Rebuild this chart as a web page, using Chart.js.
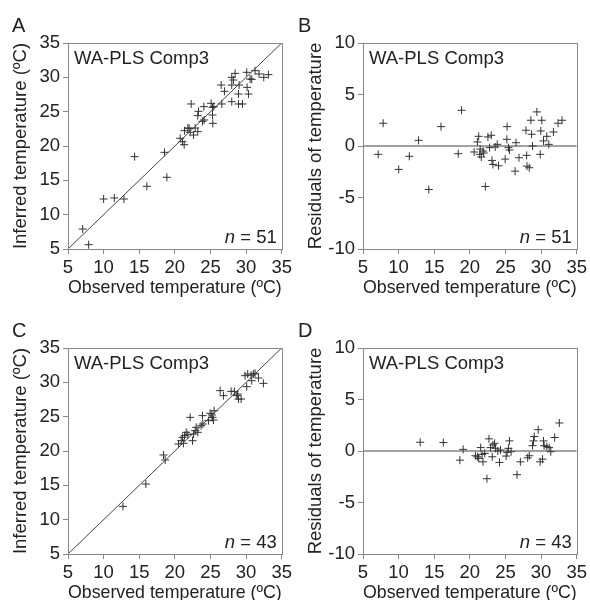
<!DOCTYPE html>
<html>
<head>
<meta charset="utf-8">
<script src="https://cdn.jsdelivr.net/npm/chart.js@4.4.1/dist/chart.umd.min.js"></script>
<style>
html, body { margin: 0; padding: 0; background: #fff; overflow: hidden; }
#wrap { position: relative; width: 590px; height: 600px; overflow: hidden; }
canvas { position: absolute; }
</style>
</head>
<body>
<div id="wrap">
  <canvas id="chartA" width="295" height="300" style="left:0;top:0"></canvas>
  <canvas id="chartB" width="295" height="300" style="left:295px;top:0"></canvas>
  <canvas id="chartC" width="295" height="300" style="left:0;top:305px"></canvas>
  <canvas id="chartD" width="295" height="300" style="left:295px;top:305px"></canvas>
</div>
<script>
// values
const observedA = [7.06, 7.90, 10.00, 11.50, 12.85, 14.35, 16.07, 18.55, 18.88, 20.75, 21.07, 21.31, 21.36, 21.82, 22.01, 22.62, 22.85, 23.22, 22.15, 22.29, 23.22, 23.32, 24.07, 23.88, 24.11, 25.09, 25.28, 25.47, 25.28, 25.33, 26.50, 26.59, 26.96, 27.99, 28.46, 27.99, 27.99, 28.93, 29.02, 28.93, 29.49, 30.09, 30.14, 30.33, 30.56, 30.79, 31.26, 31.82, 32.48, 33.13, 28.22];
const inferredA = [7.91, 5.63, 12.28, 12.43, 12.28, 18.45, 14.13, 19.08, 15.44, 21.12, 20.63, 20.19, 22.23, 22.62, 22.57, 21.60, 22.62, 22.09, 21.99, 26.12, 24.42, 25.05, 25.73, 23.59, 23.79, 26.21, 25.63, 25.73, 24.51, 23.30, 28.88, 26.12, 27.96, 30.00, 30.58, 28.88, 26.46, 27.57, 28.88, 26.12, 26.12, 30.73, 28.54, 27.57, 29.76, 29.71, 30.97, 30.49, 30.00, 30.39, 29.61];

const observedB = [7.13, 7.83, 10.01, 11.5, 12.8, 14.23, 15.95, 18.36, 18.83, 20.6, 21.06, 21.24, 21.38, 21.6, 21.85, 21.95, 22.17, 22.54, 22.77, 23.0, 23.1, 23.24, 23.56, 23.84, 24.03, 24.96, 25.19, 25.23, 25.42, 25.56, 26.35, 26.48, 26.9, 27.88, 27.97, 28.02, 28.34, 28.57, 28.67, 28.8, 29.41, 29.88, 29.96, 30.1, 30.34, 30.8, 31.08, 31.73, 32.38, 32.94, 21.45];
const residualB = [-0.81, 2.21, -2.27, -1.0, 0.55, -4.22, 1.88, -0.75, 3.47, -0.58, 0.39, 0.94, -0.81, -1.07, -0.49, -0.68, -3.93, 0.88, -0.16, 1.04, -1.4, -1.79, -0.1, 0.16, -1.92, -1.27, 0.65, 1.88, -0.16, -0.39, -2.44, 0.32, -1.14, 1.53, -0.91, -1.95, -2.11, 2.5, 1.14, 0.0, 3.31, -0.81, 1.46, 2.5, 0.49, 0.94, 0.16, 1.36, 2.21, 2.5, -0.3];

const observedC = [12.71, 15.93, 18.41, 18.64, 20.51, 20.89, 21.07, 21.21, 21.36, 21.59, 21.82, 22.15, 22.48, 22.62, 22.85, 22.99, 23.22, 23.69, 23.88, 23.93, 24.95, 25.19, 25.28, 25.42, 25.51, 26.36, 26.82, 27.9, 28.36, 28.69, 28.93, 29.3, 28.83, 29.86, 30.23, 30.09, 30.7, 31.03, 31.26, 31.73, 32.43, 30.79, 24.72];
const inferredC = [11.94, 15.19, 19.42, 18.69, 21.02, 21.5, 21.99, 21.12, 22.23, 22.72, 22.38, 24.9, 21.5, 22.48, 22.96, 23.45, 22.72, 23.69, 25.15, 23.93, 25.49, 25.24, 24.9, 24.51, 25.87, 28.79, 28.06, 28.69, 28.69, 28.06, 27.57, 27.57, 28.3, 30.97, 31.21, 29.37, 31.03, 31.21, 31.31, 30.63, 29.85, 30.24, 24.42];

const observedD = [13.03, 16.28, 18.6, 19.06, 20.78, 21.06, 21.24, 21.52, 21.71, 21.84, 22.08, 22.4, 22.68, 22.91, 23.14, 23.24, 23.47, 23.61, 23.93, 24.16, 24.3, 25.09, 25.23, 25.42, 25.56, 25.79, 26.62, 27.09, 28.11, 28.34, 28.8, 28.94, 29.04, 29.59, 29.87, 30.2, 30.34, 30.43, 30.8, 31.13, 31.36, 31.91, 32.56];
const residualD = [0.85, 0.82, -0.89, 0.16, -0.46, -0.56, -0.72, 0.33, -0.33, -1.05, -0.23, -2.69, 1.18, 0.33, -0.56, 0.59, 0.75, 0.26, 0.0, -1.11, 0.1, -0.49, -0.13, 0.26, 0.98, -0.07, -2.3, -1.05, -0.66, -0.46, 0.52, 0.98, 1.41, 2.07, -1.05, -0.79, 0.98, 0.52, 0.43, 0.33, -0.07, 1.31, 2.72];

// reference lines: 1:1 and zero
const lineX = [5, 35];
const oneToOneY = [5, 35];
const zeroY = [0, 0];

const tempRange = [5, 35];
const residRange = [-10, 10];

const FONT = '"Liberation Sans", Arial, Helvetica, sans-serif';
Chart.defaults.font.family = FONT;
Chart.defaults.color = '#222';

const panelText = {
  id: 'panelText',
  afterDraw(chart, args, opts) {
    const { ctx, chartArea: a } = chart;
    ctx.save();
    ctx.strokeStyle = '#888';
    ctx.lineWidth = 1;
    ctx.strokeRect(Math.round(a.left) + 0.5, Math.round(a.top) + 0.5, Math.round(a.width), Math.round(a.height));
    ctx.fillStyle = '#222';
    ctx.textBaseline = 'alphabetic';
    ctx.font = '18.5px ' + FONT;
    ctx.textAlign = 'left';
    ctx.fillText('WA-PLS Comp3', a.left + 6, a.top + 20.5);
    const rest = ' = ' + opts.n;
    ctx.textAlign = 'right';
    ctx.fillText(rest, a.right - 5, a.bottom - 6);
    const w = ctx.measureText(rest).width;
    ctx.font = 'italic 18.5px ' + FONT;
    ctx.fillText('n', a.right - 5 - w, a.bottom - 6);
    ctx.font = '20px ' + FONT;
    ctx.textAlign = 'left';
    ctx.fillText(opts.letter, opts.letterX, 32);
    ctx.restore();
  }
};

function axis(range, titleText, isY) {
  return {
    type: 'linear',
    min: range[0],
    max: range[1],
    ticks: { stepSize: 5, color: '#222', padding: 3, font: { size: 18.5 } },
    grid: { display: true, drawOnChartArea: false, drawTicks: true, tickLength: 5, color: '#888' },
    border: { display: true, color: '#888' },
    title: {
      display: true,
      text: titleText,
      color: '#222',
      font: { size: 18.5 },
      padding: isY ? { top: 10, bottom: 0 } : { top: 0, bottom: 1 }
    },
    afterFit: isY ? (s) => { s.width = 68; } : (s) => { s.height = 51; }
  };
}

function makePanel(id, letter, letterX, xs, ys, lineY, yRange, yTitle, rightPad) {
  const pts = xs.map((x, i) => ({ x: x, y: ys[i] }));
  const line = lineX.map((x, i) => ({ x: x, y: lineY[i] }));
  return new Chart(document.getElementById(id), {
    type: 'scatter',
    data: {
      datasets: [
        {
          data: line,
          showLine: true,
          borderColor: '#444',
          borderWidth: 1,
          pointRadius: 0,
          pointHoverRadius: 0
        },
        {
          data: pts,
          pointStyle: 'cross',
          pointRadius: 4,
          pointBorderWidth: 1,
          borderColor: '#333',
          backgroundColor: '#333'
        }
      ]
    },
    options: {
      responsive: false,
      animation: false,
      events: [],
      layout: { padding: { top: 43, right: rightPad, left: 0, bottom: 0 } },
      plugins: {
        legend: { display: false },
        tooltip: { enabled: false },
        panelText: { letter: letter, letterX: letterX, n: xs.length }
      },
      scales: {
        x: axis(tempRange, 'Observed temperature (ºC)', false),
        y: axis(yRange, yTitle, true)
      }
    },
    plugins: [panelText]
  });
}

makePanel('chartA', 'A', 12, observedA, inferredA, oneToOneY, tempRange, 'Inferred temperature (ºC)', 10);
makePanel('chartB', 'B', 3, observedB, residualB, zeroY, residRange, 'Residuals of temperature', 11);
makePanel('chartC', 'C', 12, observedC, inferredC, oneToOneY, tempRange, 'Inferred temperature (ºC)', 10);
makePanel('chartD', 'D', 3, observedD, residualD, zeroY, residRange, 'Residuals of temperature', 11);
</script>
</body>
</html>
